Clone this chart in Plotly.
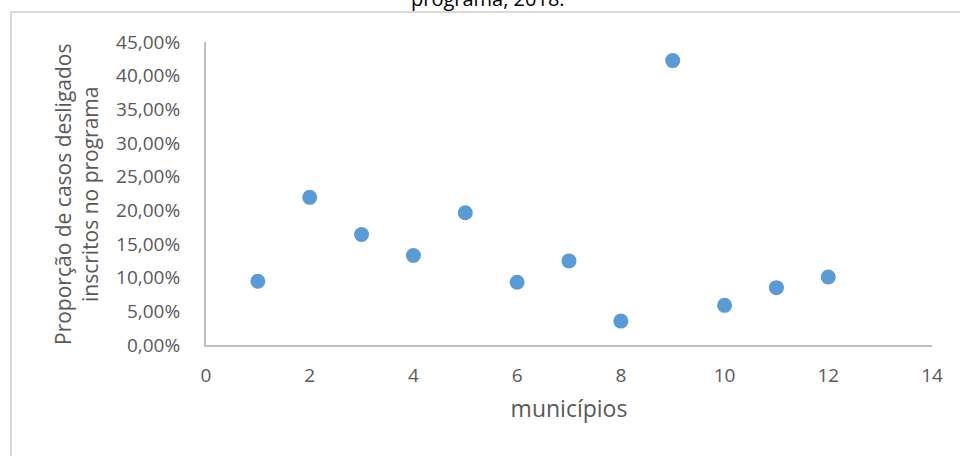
import plotly.graph_objects as go

# Municipality index and share of discharged cases enrolled in the programme
municipios = [1, 2, 3, 4, 5, 6, 7, 8, 9, 10, 11, 12]
proporcao = [0.0946, 0.2193, 0.1642, 0.1329, 0.1964, 0.0931, 0.1249,
             0.0355, 0.4224, 0.0589, 0.0852, 0.1010]

x_ticks = [0, 2, 4, 6, 8, 10, 12, 14]
y_ticks = [0.0, 0.05, 0.10, 0.15, 0.20, 0.25, 0.30, 0.35, 0.40, 0.45]

W, H = 960, 456
L, R, T, B = 206, 28, 42, 111
pw, ph = W - L - R, H - T - B

def px_x(v):
    return (v - L) / pw

def px_y(v):
    return (H - B - v) / ph

FONT = "Open Sans"
GREY_TXT = "#595959"
AXIS = "#bfbfbf"

fig = go.Figure()
fig.add_trace(go.Scatter(
    x=municipios, y=proporcao, mode="markers",
    marker=dict(size=15, color="#5b9bd5", line=dict(width=0)),
    showlegend=False, cliponaxis=False,
))

fig.update_layout(
    width=W, height=H,
    margin=dict(l=L, r=R, t=T, b=B),
    paper_bgcolor="white", plot_bgcolor="white",
    separators=",.",
    font=dict(family=FONT, color=GREY_TXT),
    xaxis=dict(
        range=[0, 14], tickvals=x_ticks, showgrid=False, zeroline=False,
        showline=True, linecolor=AXIS, linewidth=2, ticks="",
        ticklabelstandoff=12,
        tickfont=dict(size=19, color=GREY_TXT),
        title=dict(text="municípios", font=dict(size=23, color=GREY_TXT), standoff=14),
    ),
    yaxis=dict(
        range=[0, 0.45], tickvals=y_ticks, tickformat=".2%", showgrid=False,
        zeroline=False, showline=True, linecolor=AXIS, linewidth=2, ticks="",
        ticklabelstandoff=20,
        tickfont=dict(size=19, color=GREY_TXT),
    ),
    annotations=[
        dict(
            text="Proporção de casos desligados<br>inscritos no programa",
            xref="paper", yref="paper", x=px_x(76), y=px_y(195),
            xanchor="center", yanchor="middle", textangle=-90, showarrow=False,
            font=dict(size=21, color=GREY_TXT, family=FONT),
        ),
        dict(
            text="programa, 2018.",
            xref="paper", yref="paper", x=px_x(488), y=px_y(14),
            xanchor="center", yanchor="bottom", showarrow=False,
            font=dict(size=20, color="#000000", family=FONT),
        ),
    ],
    shapes=[
        dict(
            type="rect", xref="paper", yref="paper",
            x0=px_x(11), x1=px_x(975), y0=px_y(475), y1=px_y(12),
            line=dict(color="#d9d9d9", width=2), fillcolor="rgba(0,0,0,0)",
            layer="below",
        ),
    ],
)

fig.write_html("out.html")
